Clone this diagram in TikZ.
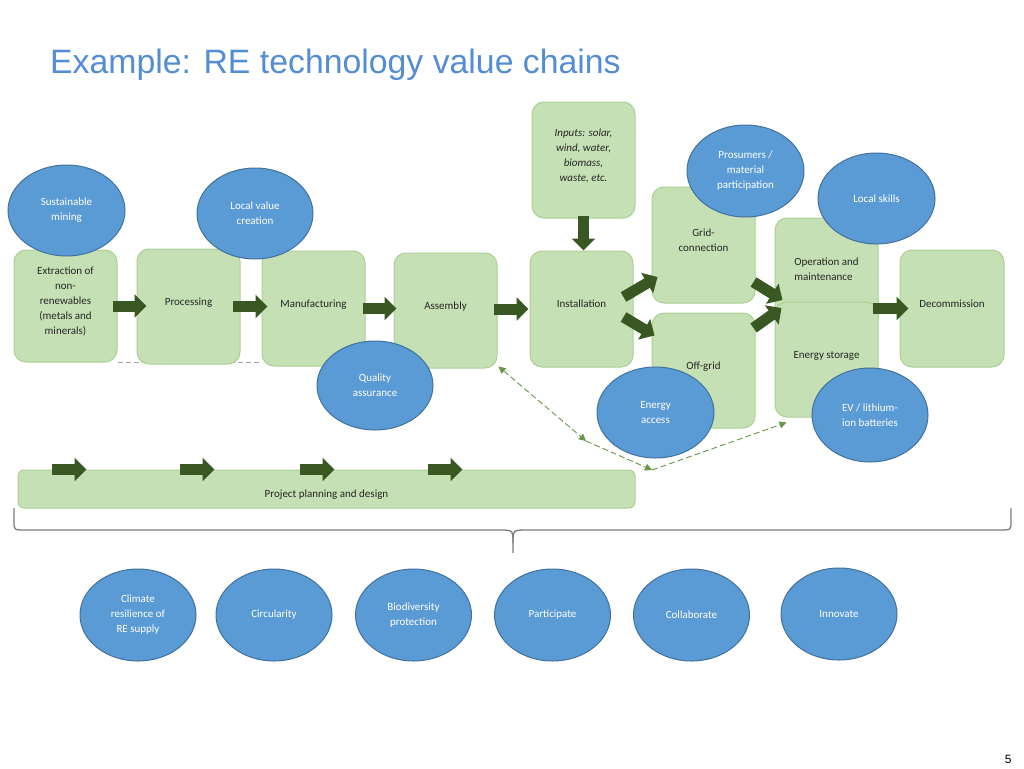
\documentclass[tikz,border=0pt]{standalone}
\usepackage{fontspec}
\setmainfont{Carlito}
\newfontfamily\titlefont{Liberation Sans}
\usetikzlibrary{positioning, shapes, arrows.meta, backgrounds}

\definecolor{boxgreen}{RGB}{197,224,180}
\definecolor{boxline}{RGB}{172,208,148}
\definecolor{bubblefill}{RGB}{91,155,213}
\definecolor{bubbleline}{RGB}{65,113,156}
\definecolor{flowgreen}{RGB}{56,87,35}
\definecolor{titleblue}{RGB}{84,141,212}
\definecolor{dashgreen}{RGB}{104,150,74}
\definecolor{bracegray}{RGB}{125,125,125}

\tikzset{
  stage/.style={draw=boxline, fill=boxgreen, line width=1pt, rounded corners=12pt,
    minimum width=103pt, minimum height=115pt, align=center, text=black!85,
    font=\fontsize{11}{15}\selectfont, inner sep=2pt, text depth=10pt},
  bubble/.style={ellipse, draw=bubbleline, fill=bubblefill, line width=1pt,
    minimum width=116pt, minimum height=91pt, align=center, text=white,
    font=\fontsize{11}{15}\selectfont, inner sep=0pt},
  flow/.style={draw=flowgreen, line width=11pt, -{Triangle[length=12pt,width=23pt]}},
  grayline/.style={draw=gray!70, line width=1pt, dash pattern=on 5pt off 3pt},
  greenline/.style={draw=dashgreen, line width=0.9pt, dash pattern=on 6pt off 3pt,
    arrows={-Triangle[length=7pt,width=7pt]}},
  bracket/.style={draw=bracegray, line width=1.3pt}
}

\begin{document}
\begin{tikzpicture}[x=1pt, y=-1pt]
\useasboundingbox (0,0) rectangle (1024,768);

\node[anchor=base west, inner sep=0pt, text=titleblue, font=\titlefont\fontsize{33.8}{40}\selectfont] (title) at (50,73) {Example: RE technology value chains};
\node[anchor=base east, font=\titlefont\fontsize{12}{14}\selectfont] (pagenum) at (1015,763) {5};

% value chain stages
\node[stage, minimum height=112pt] (extr) at (65.5,306) {Extraction of\\non-\\renewables\\(metals and\\minerals)};
\node[stage] (proc) at (188.5,306.5) {Processing};
\node[stage] (manu) at (313.5,308.5) {Manufacturing};
\node[stage] (asmb) at (445.5,310.5) {Assembly};
\node[stage, minimum height=116pt] (inst) at (581.5,309) {Installation};
\node[stage, minimum height=116pt, font=\fontsize{11}{15}\selectfont\itshape] (inputs) at (583.5,160) {Inputs: solar,\\wind, water,\\biomass,\\waste, etc.};
\node[stage, minimum height=116pt] (grid) at (703.5,245) {Grid-\\connection};
\node[stage] (offgrid) at (703.5,370.5) {Off-grid};
\node[stage, minimum height=112pt, align=left] (om) at (826.5,274) {Operation and\\maintenance};
\node[stage] (stor) at (826.5,359.5) {Energy storage};
\node[stage, minimum width=104pt, minimum height=117pt] (decom) at (952,308.5) {Decommission};
\node[stage, minimum width=617pt, minimum height=38pt, rounded corners=6pt, text height=19pt, text depth=2pt] (plan) at (326.5,489) {Project planning and design};

\begin{scope}[on background layer]
  \draw[grayline] (extr.south east) -- (extr.south east -| manu.south west);
\end{scope}

% flow arrows
\draw[flow, shorten <=-5pt, shorten >=-10pt] (extr.east) -- (extr.east -| proc.west);
\draw[flow, shorten <=-8pt, shorten >=-6pt] (proc.east) -- (proc.east -| manu.west);
\draw[flow, shorten <=-3pt, shorten >=-3pt] (manu.east) -- (manu.east -| asmb.west);
\draw[flow, shorten <=-4pt, shorten >=1pt] (inst.west -| asmb.east) -- (inst.west);
\draw[flow, shorten <=-3pt] (inputs.south) -- (inputs.south |- inst.north);
\draw[flow] ([shift={(-10,-12)}]inst.east) -- ([shift={(6,32)}]grid.west);
\draw[flow] ([shift={(-10,8)}]inst.east) -- ([shift={(3,-35)}]offgrid.west);
\draw[flow] ([shift={(-2,37)}]grid.east) -- ([shift={(8,26)}]om.west);
\draw[flow] ([shift={(-2,-42.5)}]offgrid.east) -- ([shift={(7,-51.5)}]stor.west);
\draw[flow, shorten <=-6pt, shorten >=-9pt] (decom.west -| stor.east) -- (decom.west);
\foreach \s in {34,162,282,410}
  \draw[flow] ([xshift=\s]plan.north west) -- ++(35,0);

% cross-cutting themes
\node[bubble, minimum width=117pt] (sustmin) at (66.5,210.5) {Sustainable\\mining};
\node[bubble] (localval) at (255,213.5) {Local value\\creation};
\node[bubble, minimum height=89pt] (quality) at (375,385.5) {Quality\\assurance};
\node[bubble, minimum width=117pt] (enacc) at (655.5,412.5) {Energy\\access};
\node[bubble, minimum width=117pt, minimum height=92pt] (prosum) at (745.5,171) {Prosumers /\\material\\participation};
\node[bubble, minimum width=117pt] (lskills) at (876.5,198.5) {Local skills};
\node[bubble, minimum height=94pt] (evbat) at (870,415) {EV / lithium-\\ion batteries};

% dashed links
\coordinate (qa1) at ([shift={(1,-2)}]asmb.south east);
\coordinate (qa2) at (586,441);
\coordinate (qa3) at (652,470);
\coordinate (qa4) at ([shift={(12,5)}]stor.south west);
\draw[greenline, arrows={Triangle[length=7pt,width=7pt]-Triangle[length=7pt,width=7pt]}] (qa1) -- (qa2);
\draw[greenline] (qa2) -- (qa3);
\draw[greenline] (qa3) -- (qa4);

% bracket
\draw[bracket] (14,508) -- (14,522) .. controls (14,530) .. (26,530) -- (499,530) .. controls (513,530) .. (513,543) -- (513,553);
\draw[bracket] (1011,508) -- (1011,522) .. controls (1011,530) .. (999,530) -- (527,530) .. controls (513,530) .. (513,543);

% principles
\node[bubble, minimum height=92pt] (climate) at (138,615) {Climate\\resilience of\\RE supply};
\node[bubble, minimum height=92pt] (circ) at (274,615) {Circularity};
\node[bubble, minimum height=92pt] (biodiv) at (413.5,615) {Biodiversity\\protection};
\node[bubble, minimum height=92pt] (partic) at (552.5,615) {Participate};
\node[bubble, minimum height=92pt] (collab) at (691.5,615) {Collaborate};
\node[bubble, minimum height=92pt] (innov) at (839,614) {Innovate};

\end{tikzpicture}
\end{document}
